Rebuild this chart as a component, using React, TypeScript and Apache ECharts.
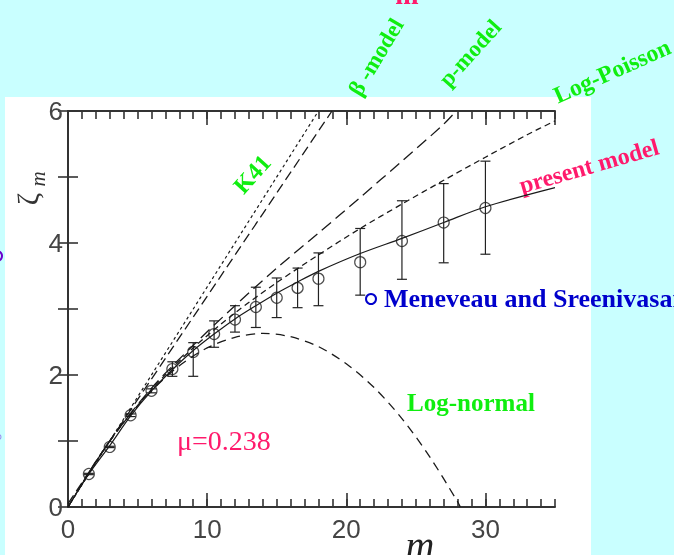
import React, { useEffect, useRef } from "react";
import * as echarts from "echarts";

// ---- data ----
const dataM = [1.5, 3, 4.5, 6, 7.5, 9, 10.5, 12, 13.5, 15, 16.5, 18, 21, 24, 27, 30];
const dataZeta = [0.5, 0.91, 1.39, 1.76, 2.09, 2.35, 2.62, 2.84, 3.03, 3.17, 3.32, 3.46, 3.71, 4.03, 4.31, 4.53];
const errLow = [0.49, 0.9, 1.37, 1.73, 1.98, 1.98, 2.42, 2.65, 2.72, 2.87, 3.02, 3.05, 3.21, 3.45, 3.7, 3.83];
const errHigh = [0.51, 0.92, 1.41, 1.79, 2.2, 2.49, 2.82, 3.05, 3.33, 3.47, 3.62, 3.85, 4.22, 4.64, 4.9, 5.24];

const presentM = [0, 1.5, 3, 4.5, 6, 7.5, 9, 10.5, 12, 13.5, 15, 16.5, 18, 21, 24, 27, 30, 35];
const presentZ = [0, 0.5, 0.93, 1.38, 1.76, 2.08, 2.37, 2.62, 2.85, 3.05, 3.24, 3.41, 3.57, 3.84, 4.07, 4.31, 4.55, 4.84];

const logPoissonM = [0, 3, 6, 9, 12, 15, 18, 21, 24, 27, 30, 33, 35];
const logPoissonZ = [0, 1.0, 1.78, 2.41, 2.94, 3.4, 3.82, 4.22, 4.59, 4.95, 5.3, 5.64, 5.85];

const pModelM = [0, 3, 6, 9, 12, 15, 18, 21, 24, 27, 27.9];
const pModelZ = [0, 1.0, 1.8, 2.45, 3.05, 3.62, 4.15, 4.69, 5.24, 5.8, 6.0];

const betaM = [0, 3, 18.97];
const betaZ = [0.05, 1.0, 6.0];

const k41M = [0, 18];
const k41Z = [0, 6];

const logNormalM = [0, 2, 4, 6, 8, 10, 12, 14, 16, 18, 20, 22, 24, 26, 28, 28.2];
const logNormalZ = [0, 0.69, 1.28, 1.76, 2.14, 2.41, 2.57, 2.63, 2.58, 2.43, 2.17, 1.81, 1.34, 0.76, 0.08, 0];

const xTickLabels = ["0", "10", "20", "30"];
const yTickLabels = ["0", "2", "4", "6"];

const pair = (xs: number[], ys: number[]) => xs.map((x, i) => [x, ys[i]]);

const GREEN = "#10ee10";
const PINK = "#ff1a6c";
const BLUE = "#0000cc";
const AX = "#333333";
const CURVE = "#1a1a1a";
const SERIF = "'Liberation Serif', 'Times New Roman', serif";
const SANS = "'Liberation Sans', Arial, sans-serif";

export default function App() {
  const ref = useRef<HTMLDivElement>(null);

  useEffect(() => {
    if (!ref.current) return;
    const chart = echarts.init(ref.current, null, { renderer: "svg" });

    const baseX = {
      type: "value" as const,
      min: 0,
      max: 35,
      splitLine: { show: false },
    };
    const baseY = {
      type: "value" as const,
      min: 0,
      max: 6,
      interval: 1,
      splitLine: { show: false },
    };

    const option: any = {
      animation: false,
      backgroundColor: "transparent",
      grid: { left: 68, right: 119, top: 111, bottom: 48, containLabel: false },
      xAxis: [
        {
          ...baseX,
          position: "bottom",
          interval: 10,
          axisLine: { show: true, lineStyle: { color: AX, width: 2 } },
          axisTick: { show: true, inside: true, length: 14, lineStyle: { color: AX, width: 1.6 } },
          axisLabel: {
            show: true,
            margin: 9,
            fontSize: 26,
            color: "#444",
            fontFamily: SANS,
            showMaxLabel: false,
            formatter: (v: number) => (xTickLabels.includes(String(v)) ? String(v) : ""),
          },
        },
        {
          ...baseX,
          position: "bottom",
          interval: 1,
          axisLine: { show: false },
          axisTick: { show: true, inside: true, length: 8, lineStyle: { color: AX, width: 1.6 } },
          axisLabel: { show: false },
        },
        {
          ...baseX,
          position: "top",
          interval: 10,
          axisLine: { show: true, lineStyle: { color: AX, width: 2 } },
          axisTick: { show: true, inside: true, length: 14, lineStyle: { color: AX, width: 1.6 } },
          axisLabel: { show: false },
        },
        {
          ...baseX,
          position: "top",
          interval: 1,
          axisLine: { show: false },
          axisTick: { show: true, inside: true, length: 8, lineStyle: { color: AX, width: 1.6 } },
          axisLabel: { show: false },
        },
      ],
      yAxis: [
        {
          ...baseY,
          position: "left",
          axisLine: { show: true, lineStyle: { color: AX, width: 2 } },
          axisTick: { show: true, inside: true, length: 10, lineStyle: { color: AX, width: 1.6 } },
          axisLabel: {
            show: true,
            margin: 5,
            fontSize: 26,
            color: "#444",
            fontFamily: SANS,
            formatter: (v: number) => (yTickLabels.includes(String(v)) ? String(v) : ""),
          },
        },
        {
          ...baseY,
          position: "right",
          axisLine: { show: true, lineStyle: { color: AX, width: 2 } },
          axisTick: { show: true, inside: true, length: 10, lineStyle: { color: AX, width: 1.6 } },
          axisLabel: { show: false },
        },
      ],
      graphic: [
        { type: "rect", z: -10, silent: true, shape: { x: 0, y: 0, width: 674, height: 555 }, style: { fill: "#c9ffff" } },
        { type: "rect", z: -9, silent: true, shape: { x: 5, y: 97, width: 586, height: 460 }, style: { fill: "#ffffff" } },
        // clipped fragments at the page edges
        { type: "text", x: 407, y: -6, style: { text: "m", fill: PINK, font: `bold 28px ${SERIF}`, align: "center", verticalAlign: "middle" } },
        { type: "circle", shape: { cx: -3, cy: 256, r: 5 }, style: { fill: "none", stroke: "#6a00cc", lineWidth: 2 } },
        { type: "circle", shape: { cx: -3, cy: 437, r: 4 }, style: { fill: "none", stroke: "#9a88ee", lineWidth: 1 } },
        // axis titles
        { type: "text", x: 27, y: 199, rotation: Math.PI / 2, style: { text: "ζ", fill: "#333", font: `30px ${SERIF}`, align: "center", verticalAlign: "middle" } },
        { type: "text", x: 38, y: 179, rotation: Math.PI / 2, style: { text: "m", fill: "#333", font: `italic 21px ${SERIF}`, align: "center", verticalAlign: "middle" } },
        { type: "text", x: 420, y: 545, style: { text: "m", fill: "#222", font: `italic 40px ${SERIF}`, align: "center", verticalAlign: "middle" } },
        // curve labels
        { type: "text", x: 252, y: 174, rotation: (48 * Math.PI) / 180, style: { text: "K41", fill: GREEN, font: `bold 24px ${SERIF}`, align: "center", verticalAlign: "middle" } },
        { type: "text", x: 376, y: 57, rotation: (59 * Math.PI) / 180, style: { text: "β -model", fill: GREEN, font: `bold 23px ${SERIF}`, align: "center", verticalAlign: "middle" } },
        { type: "text", x: 470, y: 53, rotation: (48 * Math.PI) / 180, style: { text: "p-model", fill: GREEN, font: `bold 23px ${SERIF}`, align: "center", verticalAlign: "middle" } },
        { type: "text", x: 612, y: 71, rotation: (24 * Math.PI) / 180, style: { text: "Log-Poisson", fill: GREEN, font: `bold 24px ${SERIF}`, align: "center", verticalAlign: "middle" } },
        { type: "text", x: 589, y: 166, rotation: (16 * Math.PI) / 180, style: { text: "present model", fill: PINK, font: `bold 24px ${SERIF}`, align: "center", verticalAlign: "middle" } },
        { type: "text", x: 471, y: 402, style: { text: "Log-normal", fill: GREEN, font: `bold 25px ${SERIF}`, align: "center", verticalAlign: "middle" } },
        { type: "text", x: 177, y: 440, style: { text: "μ=0.238", fill: PINK, font: `28px ${SERIF}`, align: "left", verticalAlign: "middle" } },
        { type: "circle", shape: { cx: 371, cy: 299, r: 5 }, style: { fill: "none", stroke: BLUE, lineWidth: 2 } },
        { type: "text", x: 384, y: 298, style: { text: "Meneveau and Sreenivasan", fill: BLUE, font: `bold 26px ${SERIF}`, align: "left", verticalAlign: "middle" } },
      ],
      series: [
        {
          type: "line",
          name: "K41",
          data: pair(k41M, k41Z),
          symbol: "none",
          lineStyle: { color: CURVE, width: 1.2, type: [3, 3] },
        },
        {
          type: "line",
          name: "beta",
          data: pair(betaM, betaZ),
          symbol: "none",
          lineStyle: { color: CURVE, width: 1.3, type: [10, 5] },
        },
        {
          type: "line",
          name: "p-model",
          data: pair(pModelM, pModelZ),
          symbol: "none",
          smooth: 0.3,
          lineStyle: { color: CURVE, width: 1.3, type: [12, 6] },
        },
        {
          type: "line",
          name: "Log-Poisson",
          data: pair(logPoissonM, logPoissonZ),
          symbol: "none",
          smooth: 0.3,
          lineStyle: { color: CURVE, width: 1.3, type: [6, 4] },
        },
        {
          type: "line",
          name: "Log-normal",
          data: pair(logNormalM, logNormalZ),
          symbol: "none",
          smooth: 0.3,
          lineStyle: { color: CURVE, width: 1.3, type: [9, 6] },
        },
        {
          type: "line",
          name: "present",
          data: pair(presentM, presentZ),
          symbol: "none",
          smooth: 0.3,
          lineStyle: { color: CURVE, width: 1.2 },
        },
        {
          type: "custom",
          name: "errors",
          data: dataM.map((m, i) => [m, errLow[i], errHigh[i]]),
          renderItem: (params: any, api: any) => {
            const x = api.value(0);
            const lo = api.coord([x, api.value(1)]);
            const hi = api.coord([x, api.value(2)]);
            const hw = 5;
            const st = { stroke: "#222", lineWidth: 1.2 };
            return {
              type: "group",
              children: [
                { type: "line", shape: { x1: lo[0], y1: lo[1], x2: hi[0], y2: hi[1] }, style: st },
                { type: "line", shape: { x1: hi[0] - hw, y1: hi[1], x2: hi[0] + hw, y2: hi[1] }, style: st },
                { type: "line", shape: { x1: lo[0] - hw, y1: lo[1], x2: lo[0] + hw, y2: lo[1] }, style: st },
              ],
            };
          },
        },
        {
          type: "scatter",
          name: "data",
          data: pair(dataM, dataZeta),
          symbol: "circle",
          symbolSize: 11,
          itemStyle: { color: "rgba(0,0,0,0)", borderColor: "#222", borderWidth: 1.2 },
        },
      ],
    };

    chart.setOption(option);
    return () => chart.dispose();
  }, []);

  return (
    <div
      ref={ref}
      style={{ position: "fixed", left: 0, top: 0, width: 674, height: 555 }}
    />
  );
}
